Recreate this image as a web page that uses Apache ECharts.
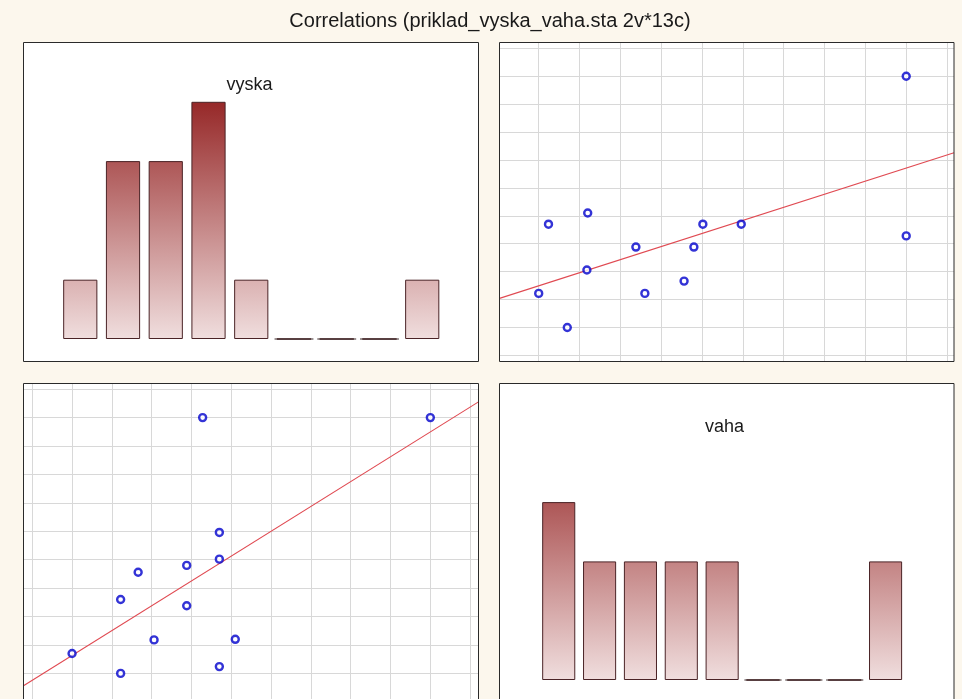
<!DOCTYPE html>
<html>
<head>
<meta charset="utf-8">
<script src="https://cdn.jsdelivr.net/npm/echarts@6/dist/echarts.min.js"></script>
<style>
  html, body { margin: 0; padding: 0; background: #fcf7ed; }
  #chart { width: 962px; height: 699px; }
</style>
</head>
<body>
<div id="chart"></div>
<script>
// ---- data ----
const chartTitle = 'Correlations (priklad_vyska_vaha.sta 2v*13c)';
const varNames = ['vyska', 'vaha'];
// 13 cases: height (vyska) and weight (vaha)
const vyska = [205, 178.5, 180.5, 178.5, 178.5, 176.4, 174.4, 174.4, 170.3, 168.3, 166.1, 166.1, 160];
const vaha  = [100, 56.2, 61, 75.1, 79.8, 100, 66.9, 74, 60.9, 72.8, 55, 68, 58.5];
// histogram bins (9 bins each) and counts
const vyskaBins = ['160-165','165-170','170-175','175-180','180-185','185-190','190-195','195-200','200-205'];
const vyskaCounts = [1, 3, 3, 4, 1, 0, 0, 0, 1];
const vahaBins = ['55-60','60-65','65-70','70-75','75-80','80-85','85-90','90-95','95-100'];
const vahaCounts = [3, 2, 2, 2, 2, 0, 0, 0, 2];
// grid tick values (every 5 units)
const vyskaTicks = [155, 160, 165, 170, 175, 180, 185, 190, 195, 200, 205, 210];
const vahaTicks = [55, 60, 65, 70, 75, 80, 85, 90, 95, 100, 105];

// ---- helpers ----
const C0 = [240, 222, 222], CMAX = [150, 40, 40];
function mixColor(t) {
  const c = C0.map((v, i) => Math.round(v + (CMAX[i] - v) * t));
  return 'rgb(' + c.join(',') + ')';
}
function barData(counts) {
  return counts.map(v => ({
    value: v,
    itemStyle: {
      color: new echarts.graphic.LinearGradient(0, 0, 0, 1, [
        { offset: 0, color: mixColor(v / 4) },
        { offset: 1, color: mixColor(0) }
      ])
    }
  }));
}
function regression(xs, ys) {
  const n = xs.length;
  const mx = xs.reduce((a, b) => a + b, 0) / n;
  const my = ys.reduce((a, b) => a + b, 0) / n;
  let sxy = 0, sxx = 0;
  for (let i = 0; i < n; i++) { sxy += (xs[i] - mx) * (ys[i] - my); sxx += (xs[i] - mx) ** 2; }
  const b = sxy / sxx;
  return { a: my - b * mx, b: b };
}
function regLine(xs, ys, xmin, xmax) {
  const r = regression(xs, ys);
  return [[xmin, r.a + r.b * xmin], [xmax, r.a + r.b * xmax]];
}

// axis ranges (extent of each panel)
const vyskaRange = [153.9, 211.05];
const vahaRangeTR = [50.2, 105.85];
const vahaRangeBL = [50.5, 106.0];

const panels = [
  [23.5, 42.5, 455, 319],
  [499.5, 42.5, 454.5, 319],
  [23.5, 383.5, 455, 320],
  [499.5, 383.5, 454.5, 320]
];

const chart = echarts.init(document.getElementById('chart'), null, { renderer: 'canvas' });

const hiddenAxis = {
  axisLine: { show: false }, axisTick: { show: false }, axisLabel: { show: false }, splitLine: { show: false }
};
function gridValueAxis(gridIndex, range, ticks) {
  return {
    type: 'value', gridIndex: gridIndex, min: range[0], max: range[1],
    axisLine: { show: false },
    axisTick: { show: false, customValues: ticks },
    axisLabel: { show: false },
    splitLine: { show: true, lineStyle: { color: '#d8d8d8', width: 1 } }
  };
}

function emptyBinSeries(xi, yi, counts) {
  return {
    type: 'custom', xAxisIndex: xi, yAxisIndex: yi, z: 3,
    data: counts.map((v, i) => [i, v]),
    renderItem: function (params, api) {
      if (api.value(1) !== 0) return null;
      const p = api.coord([api.value(0), 0]);
      const w = api.size([1, 0])[0] * 0.91;
      return {
        type: 'line',
        shape: { x1: p[0] - w / 2, y1: p[1], x2: p[0] + w / 2, y2: p[1] },
        style: { stroke: '#3a2626', lineWidth: 1 }
      };
    }
  };
}

const scatterStyle = {
  symbol: 'circle', symbolSize: 7,
  itemStyle: { color: '#ffffff', borderColor: '#0000cc', borderWidth: 2.4 }
};
const regStyle = { symbol: 'none', lineStyle: { color: '#e04a52', width: 1.1 }, z: 2 };

const option = {
  backgroundColor: '#fcf7ed',
  animation: false,
  graphic: [
    ...panels.map(p => ({ type: 'rect', z: -10, shape: { x: p[0], y: p[1], width: p[2], height: p[3] }, style: { fill: '#ffffff' } })),
    ...panels.map(p => ({ type: 'rect', z: 100, shape: { x: p[0], y: p[1], width: p[2], height: p[3] }, style: { fill: 'none', stroke: '#2a2a2a', lineWidth: 1 } })),
    { type: 'text', x: 490, y: 21, z: 100, style: { text: chartTitle, font: '20px "Liberation Sans", Arial, sans-serif', fill: '#1a1a1a', textAlign: 'center', textVerticalAlign: 'middle' } },
    { type: 'text', x: 249.5, y: 85, z: 100, style: { text: varNames[0], font: '18px "Liberation Sans", Arial, sans-serif', fill: '#1a1a1a', textAlign: 'center', textVerticalAlign: 'middle' } },
    { type: 'text', x: 724.5, y: 427, z: 100, style: { text: varNames[1], font: '18px "Liberation Sans", Arial, sans-serif', fill: '#1a1a1a', textAlign: 'center', textVerticalAlign: 'middle' } }
  ],
  grid: [
    { left: 58.9, top: 42.5, width: 384.7, height: 296.5 },
    { left: 499.5, top: 42.5, width: 454.5, height: 319 },
    { left: 23.5, top: 383.5, width: 455, height: 320 },
    { left: 538.3, top: 383.5, width: 367.7, height: 296.5 }
  ],
  xAxis: [
    Object.assign({ type: 'category', gridIndex: 0, data: vyskaBins, boundaryGap: true }, hiddenAxis),
    gridValueAxis(1, vahaRangeTR, vahaTicks),
    gridValueAxis(2, vyskaRange, vyskaTicks),
    Object.assign({ type: 'category', gridIndex: 3, data: vahaBins, boundaryGap: true }, hiddenAxis)
  ],
  yAxis: [
    Object.assign({ type: 'value', gridIndex: 0, min: 0, max: 5 }, hiddenAxis),
    gridValueAxis(1, vyskaRange, vyskaTicks),
    gridValueAxis(2, vahaRangeBL, vahaTicks),
    Object.assign({ type: 'value', gridIndex: 3, min: 0, max: 5 }, hiddenAxis)
  ],
  series: [
    {
      name: 'vyska histogram', type: 'bar', xAxisIndex: 0, yAxisIndex: 0,
      barCategoryGap: '20%', data: barData(vyskaCounts),
      itemStyle: { borderColor: '#4a2326', borderWidth: 1 }
    },
    emptyBinSeries(0, 0, vyskaCounts),
    Object.assign({ name: 'vaha vs vyska fit', type: 'line', xAxisIndex: 1, yAxisIndex: 1,
      data: regLine(vaha, vyska, vahaRangeTR[0], vahaRangeTR[1]) }, regStyle),
    Object.assign({ name: 'vyska x vaha', type: 'scatter', xAxisIndex: 1, yAxisIndex: 1, z: 3,
      data: vaha.map((v, i) => [v, vyska[i]]) }, scatterStyle),
    Object.assign({ name: 'vyska vs vaha fit', type: 'line', xAxisIndex: 2, yAxisIndex: 2,
      data: regLine(vyska, vaha, vyskaRange[0], vyskaRange[1]) }, regStyle),
    Object.assign({ name: 'vaha x vyska', type: 'scatter', xAxisIndex: 2, yAxisIndex: 2, z: 3,
      data: vyska.map((v, i) => [v, vaha[i]]) }, scatterStyle),
    {
      name: 'vaha histogram', type: 'bar', xAxisIndex: 3, yAxisIndex: 3,
      barCategoryGap: '19%', data: barData(vahaCounts),
      itemStyle: { borderColor: '#4a2326', borderWidth: 1 }
    },
    emptyBinSeries(3, 3, vahaCounts)
  ]
};
chart.setOption(option);
</script>
</body>
</html>
